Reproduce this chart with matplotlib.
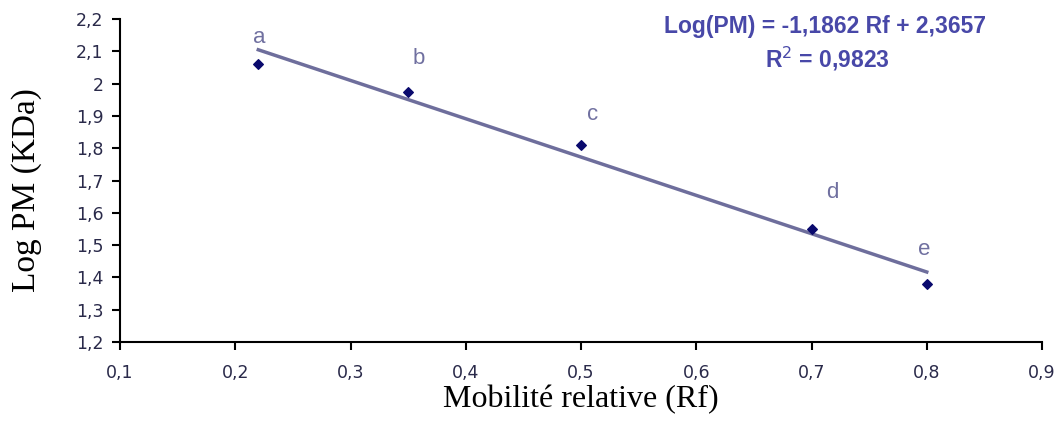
import matplotlib
matplotlib.use("Agg")
import matplotlib.pyplot as plt
from matplotlib import font_manager as fm
import numpy as np
import os

rf = [0.22, 0.35, 0.5, 0.7, 0.8]
logpm = [2.06, 1.975, 1.81, 1.55, 1.38]
labels = ["a", "b", "c", "d", "e"]
label_x = [0.221, 0.359, 0.51, 0.718, 0.798]
label_y = [2.144, 2.079, 1.903, 1.664, 1.485]
slope, intercept = -1.1862, 2.3657
xticks = [0.1, 0.2, 0.3, 0.4, 0.5, 0.6, 0.7, 0.8, 0.9]
yticks = [1.2, 1.3, 1.4, 1.5, 1.6, 1.7, 1.8, 1.9, 2.0, 2.1, 2.2]

def fmt(v):
    s = f"{v:.1f}"
    if s.endswith(".0"):
        s = s[:-2]
    return s.replace(".", ",")

# locate a regular-width bold Arial-like font
bold_fp = None
for f in fm.findSystemFonts():
    if os.path.basename(f) == "LiberationSans-Bold.ttf":
        bold_fp = fm.FontProperties(fname=f, size=16.5)
        break
if bold_fp is None:
    bold_fp = fm.FontProperties(family="Roboto", weight="bold", size=16.5)

fig = plt.figure(figsize=(10.58, 4.21), dpi=100)
ax = fig.add_axes([120/1058, 1-342/421, 922/1058, 323/421])

xf = np.array([rf[0], rf[-1]])
ax.plot(xf, slope*xf + intercept, color="#6e6e9c", lw=2.5, zorder=2)
ax.scatter(rf, logpm, marker="D", s=24, color="#0a0a6e", zorder=3)
for lx, ly, t in zip(label_x, label_y, labels):
    ax.text(lx, ly, t, color="#7070a0", fontsize=16, family="Liberation Sans",
            ha="center", va="center")

ax.set_xlim(0.1, 0.9)
ax.set_ylim(1.2, 2.2)
ax.set_xticks(xticks)
ax.set_xticklabels([fmt(v) for v in xticks], family="DejaVu Sans", fontsize=12.5, color="#2a2a4a")
ax.set_yticks(yticks)
ax.set_yticklabels([fmt(v) for v in yticks], family="DejaVu Sans", fontsize=12.5, color="#2a2a4a")
ax.tick_params(direction="out", length=6, width=1.5)
ax.tick_params(axis="x", pad=10)
ax.tick_params(axis="y", pad=6)
for s in ["top", "right"]:
    ax.spines[s].set_visible(False)
for s in ["left", "bottom"]:
    ax.spines[s].set_linewidth(1.5)

ax.set_xlabel("Mobilité relative (Rf)", family="Liberation Serif", fontsize=23, labelpad=2)
ax.set_ylabel("Log PM (KDa)", family="Liberation Serif", fontsize=24)
ax.yaxis.set_label_coords(-78/922, 0.47)

fig.text(825/1058, 1-26/421, "Log(PM) = -1,1862 Rf + 2,3657", fontproperties=bold_fp,
         color="#4848a8", ha="center", va="center")
fig.text(827/1058, 1-59/421, "R$^2$ = 0,9823", fontproperties=bold_fp,
         color="#4848a8", ha="center", va="center")

fig.savefig("out.png", dpi=100)
